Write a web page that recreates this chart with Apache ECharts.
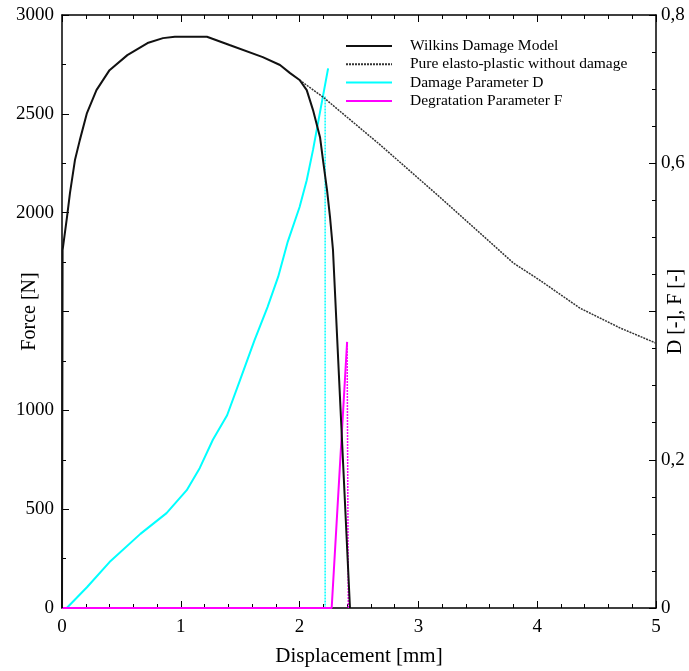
<!DOCTYPE html>
<html>
<head>
<meta charset="utf-8">
<script src="https://cdn.jsdelivr.net/npm/echarts@6/dist/echarts.min.js"></script>
<style>
  html, body { margin: 0; padding: 0; background: #fff; }
  #chart { width: 689px; height: 671px; }
</style>
</head>
<body>
<div id="chart"></div>
<script>
// Wilkins damage model (force, left axis)
var wilkinsX = [0, 0.005, 0.042, 0.067, 0.109, 0.15, 0.21, 0.29, 0.40, 0.55, 0.72, 0.85, 0.95, 1.22, 1.41, 1.69, 1.835, 1.92, 2.0, 2.06, 2.113, 2.172, 2.197, 2.231, 2.256, 2.281, 2.424];
var wilkinsF = [0, 1811, 1978, 2099, 2266, 2367, 2504, 2620, 2721, 2797, 2858, 2883, 2890, 2890, 2848, 2787, 2747, 2706, 2671, 2620, 2519, 2382, 2266, 2114, 1978, 1811, 0];

// pure elasto-plastic without damage (force, left axis)
var pureX = [2.0, 2.197, 2.68, 3.18, 3.80, 4.02, 4.36, 4.70, 5.0];
var pureF = [2671, 2585, 2342, 2079, 1745, 1659, 1517, 1416, 1340];

// damage parameter D (right axis)
var damageX = [0, 0.04, 0.21, 0.40, 0.66, 0.88, 1.05, 1.16, 1.27, 1.39, 1.50, 1.62, 1.73, 1.82, 1.90, 2.0, 2.06, 2.113, 2.24];
var damageD = [0, 0, 0.028, 0.062, 0.10, 0.128, 0.159, 0.189, 0.227, 0.260, 0.308, 0.361, 0.406, 0.447, 0.494, 0.541, 0.577, 0.618, 0.728];
var damageDropX = [2.215, 2.215];
var damageDropD = [0.69, 0];

// degradation parameter F (right axis)
var degX = [0, 2.27, 2.40];
var degF = [0, 0, 0.359];
var degDropX = [2.40, 2.41];
var degDropF = [0.359, 0];

var legendNames = ['Wilkins Damage Model', 'Pure elasto-plastic without damage', 'Damage Parameter D', 'Degratation Parameter F'];

function pairs(xs, ys) {
    var out = [];
    for (var i = 0; i < xs.length; i++) out.push([xs[i], ys[i]]);
    return out;
}

var font = 'Liberation Serif';
// frame lines stay on their own side (no snapping to zero)
var axisLine = { show: true, onZero: false, lineStyle: { color: '#000', width: 1.5 } };
var tick = { show: true, inside: true, length: 7, lineStyle: { color: '#000', width: 1 } };
var minor = function(n) {
    return { show: true, splitNumber: n, length: 4, lineStyle: { color: '#000', width: 1 } };
};

var chart = echarts.init(document.getElementById('chart'));
var option = {
    backgroundColor: '#fff',
    animation: false,
    grid: { left: 62, right: 33, top: 15, bottom: 63, containLabel: false, outerBoundsMode: 'none' },
    legend: {
        data: legendNames,
        orient: 'vertical',
        left: 340,
        top: 33,
        itemWidth: 46,
        itemHeight: 16,
        itemGap: 2.3,
        selectedMode: false,
        itemStyle: { opacity: 0 },
        textStyle: { fontFamily: font, fontSize: 15.5, lineHeight: 16, color: '#000', padding: [0, 0, 0, 13] }
    },
    xAxis: [{
        type: 'value', min: 0, max: 5, interval: 1,
        name: 'Displacement [mm]', nameLocation: 'middle', nameGap: 38, nameMoveOverlap: false,
        nameTextStyle: { fontFamily: font, fontSize: 21, color: '#000' },
        axisLine: axisLine, axisTick: tick, minorTick: minor(5),
        splitLine: { show: false },
        axisLabel: { fontFamily: font, fontSize: 19, color: '#000', margin: 10 }
    }, {
        type: 'value', min: 0, max: 5, interval: 1, position: 'top',
        axisLine: axisLine, axisTick: tick, minorTick: minor(5),
        splitLine: { show: false }, axisLabel: { show: false }
    }],
    yAxis: [{
        type: 'value', min: 0, max: 3000, interval: 500,
        name: 'Force [N]', nameLocation: 'middle', nameGap: 22, nameRotate: 90, nameMoveOverlap: false,
        nameTextStyle: { fontFamily: font, fontSize: 20, color: '#000' },
        axisLine: axisLine, axisTick: tick, minorTick: minor(2),
        splitLine: { show: false },
        axisLabel: {
            fontFamily: font, fontSize: 19, color: '#000', margin: 8,
            formatter: function(v) { return v === 1500 ? '' : String(v); }
        }
    }, {
        type: 'value', min: 0, max: 0.8, interval: 0.2, position: 'right',
        name: 'D [-], F [-]', nameLocation: 'middle', nameGap: 10, nameRotate: 90, nameMoveOverlap: false,
        nameTextStyle: { fontFamily: font, fontSize: 20, color: '#000' },
        axisLine: axisLine, axisTick: tick, minorTick: minor(4),
        splitLine: { show: false },
        axisLabel: {
            fontFamily: font, fontSize: 19, color: '#000', margin: 5,
            formatter: function(v) {
                if (Math.abs(v - 0.4) < 1e-6) return '';
                return v === 0 ? '0' : v.toFixed(1).replace('.', ',');
            }
        }
    }],
    series: [{
        name: legendNames[0], type: 'line', yAxisIndex: 0, symbol: 'none',
        lineStyle: { color: '#111', width: 2 }, itemStyle: { color: '#111' },
        data: pairs(wilkinsX, wilkinsF), z: 5
    }, {
        name: legendNames[1], type: 'line', yAxisIndex: 0, symbol: 'none',
        lineStyle: { color: '#333', width: 1.5, type: [2, 1] }, itemStyle: { color: '#333' },
        data: pairs(pureX, pureF), z: 4
    }, {
        name: legendNames[2], type: 'line', yAxisIndex: 1, symbol: 'none',
        lineStyle: { color: '#00ffff', width: 2 }, itemStyle: { color: '#00ffff' },
        data: pairs(damageX, damageD), z: 3
    }, {
        name: 'D drop', type: 'line', yAxisIndex: 1, symbol: 'none', silent: true,
        lineStyle: { color: '#00ffff', width: 1.5, type: [2, 1] },
        data: pairs(damageDropX, damageDropD), z: 3
    }, {
        name: legendNames[3], type: 'line', yAxisIndex: 1, symbol: 'none',
        lineStyle: { color: '#ff00ff', width: 2 }, itemStyle: { color: '#ff00ff' },
        data: pairs(degX, degF), z: 3
    }, {
        name: 'F drop', type: 'line', yAxisIndex: 1, symbol: 'none', silent: true,
        lineStyle: { color: '#ff00ff', width: 1.5, type: [2, 1] },
        data: pairs(degDropX, degDropF), z: 3
    }]
};
chart.setOption(option);
</script>
</body>
</html>
